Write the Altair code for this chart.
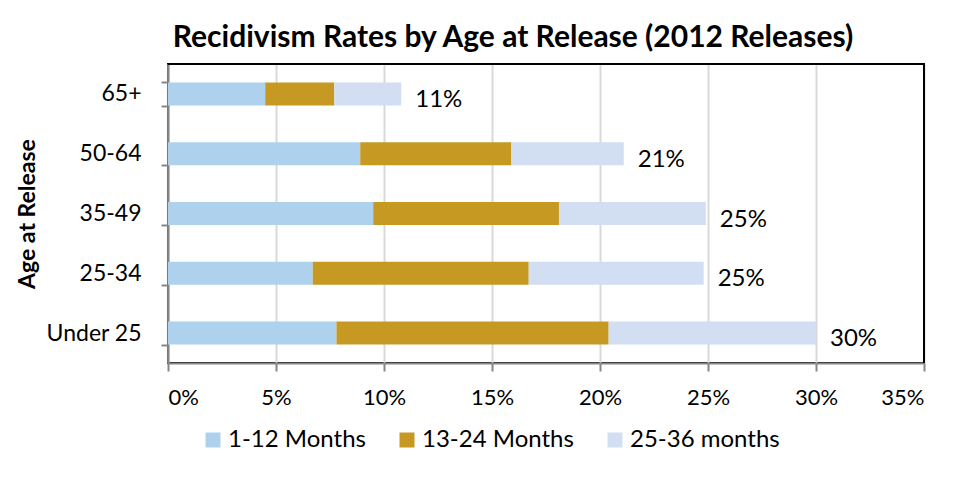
import altair as alt
import pandas as pd

ages = ["65+", "50-64", "35-49", "25-34", "Under 25"]
series = ["1-12 Months", "13-24 Months", "25-36 months"]
m1_12 = [4.5, 8.9, 9.5, 6.7, 7.8]
m13_24 = [3.2, 7.0, 8.6, 10.0, 12.6]
m25_36 = [3.1, 5.2, 6.8, 8.1, 9.6]
total_labels = ["11%", "21%", "25%", "25%", "30%"]
x_ticks = [0, 5, 10, 15, 20, 25, 30, 35]
x_min = [0]
x_max = [35]
colors = ["#AED2EE", "#C59922", "#D2DEF2"]

FONT = "Lato"

rows = []
for i, a in enumerate(ages):
    for j, vals in enumerate([m1_12, m13_24, m25_36]):
        rows.append({"age": a, "series": series[j], "ord": j, "value": vals[i]})
df = pd.DataFrame(rows)
tot = pd.DataFrame({
    "age": ages,
    "total": [m1_12[i] + m13_24[i] + m25_36[i] for i in range(len(ages))],
    "label": total_labels,
})
frame_df = pd.DataFrame({"xmin": x_min, "xmax": x_max})

x_scale = alt.Scale(domain=[0, 35], nice=False)

y_enc = alt.Y(
    "age:N", sort=ages, title="Age at Release",
    scale=alt.Scale(paddingInner=0.61, paddingOuter=0.305),
    axis=alt.Axis(
        tickBand="extent", tickSize=7, tickColor="#868686", tickWidth=2,
        labelFontSize=23, labelFont=FONT, labelColor="#000000", labelPadding=20,
        titleFontSize=23, titleFont=FONT, titleFontWeight="bold", titleColor="#000000",
        titlePadding=6, domainColor="#868686", domainWidth=2, grid=False,
    ),
)

bars = alt.Chart(df).mark_bar(size=23).encode(
    x=alt.X(
        "value:Q", stack="zero", title=None, scale=x_scale,
        axis=alt.Axis(
            values=x_ticks, labelExpr="datum.value + '%'",
            tickSize=8, tickColor="#868686", tickWidth=2,
            labelFontSize=22, labelFont=FONT, labelColor="#000000", labelPadding=16,
            domainColor="#868686", domainWidth=2,
            grid=True, gridColor="#D9D9D9", gridWidth=2,
        ),
    ),
    y=y_enc,
    color=alt.Color(
        "series:N", sort=series,
        scale=alt.Scale(domain=series, range=colors),
        legend=alt.Legend(
            title=None, orient="none", direction="horizontal",
            legendX=33, legendY=364, symbolType="square", symbolSize=225,
            symbolStrokeWidth=0, labelFontSize=24, labelFont=FONT,
            labelColor="#000000", columnPadding=29, labelOffset=3,
        ),
    ),
    order=alt.Order("ord:Q"),
)

labels = alt.Chart(tot).mark_text(
    align="left", baseline="middle", dx=14, dy=6, fontSize=24, font=FONT, color="#000000"
).encode(
    x=alt.X("total:Q"),
    y=alt.Y("age:N", sort=ages),
    text="label:N",
)

# plot-area frame: right edge at the axis maximum, top edge along the plot top
right_edge = alt.Chart(frame_df).mark_rule(color="#000000", strokeWidth=2).encode(
    x=alt.X("xmax:Q")
)
top_edge = alt.Chart(frame_df).mark_rule(color="#000000", strokeWidth=2).encode(
    x=alt.X("xmin:Q"), x2=alt.X2("xmax:Q"), y=alt.value(0)
)

chart = (
    alt.layer(bars, labels, right_edge, top_edge)
    .properties(
        width=756, height=299,
        autosize=alt.AutoSizeParams(type="none"),
        padding={"left": 160, "top": 56, "right": 23, "bottom": 109},
        title=alt.Title(
            "Recidivism Rates by Age at Release (2012 Releases)",
            fontSize=30, font=FONT, fontWeight="bold", color="#000000",
            anchor="middle", dx=-33, offset=0,
        ),
    )
    .configure(background="white")
    .configure_view(stroke="#000000", strokeWidth=2)
)

chart.save("out.html", embed_options={"renderer": "svg", "actions": False})
